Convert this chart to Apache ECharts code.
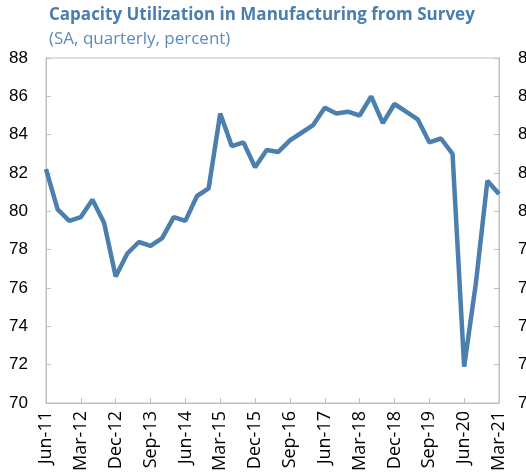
<!DOCTYPE html>
<html>
<head>
<meta charset="utf-8">
<script src="https://cdn.jsdelivr.net/npm/echarts@6/dist/echarts.min.js"></script>
<style>html,body{margin:0;padding:0;background:#fff}#c{width:526px;height:474px}</style>
</head>
<body>
<div id="c"></div>
<script>
var quarters = ["Jun-11","Sep-11","Dec-11","Mar-12","Jun-12","Sep-12","Dec-12","Mar-13","Jun-13","Sep-13",
  "Dec-13","Mar-14","Jun-14","Sep-14","Dec-14","Mar-15","Jun-15","Sep-15","Dec-15","Mar-16",
  "Jun-16","Sep-16","Dec-16","Mar-17","Jun-17","Sep-17","Dec-17","Mar-18","Jun-18","Sep-18",
  "Dec-18","Mar-19","Jun-19","Sep-19","Dec-19","Mar-20","Jun-20","Sep-20","Dec-20","Mar-21"];
var utilization = [82.2,80.1,79.5,79.7,80.6,79.4,76.6,77.8,78.4,78.2,
  78.6,79.7,79.5,80.8,81.2,85.1,83.4,83.6,82.3,83.2,
  83.1,83.7,84.1,84.5,85.4,85.1,85.2,85.0,86.0,84.6,
  85.6,85.2,84.8,83.6,83.8,83.0,71.9,76.2,81.6,80.9];
var titleText = "Capacity Utilization in Manufacturing from Survey";
var subtitleText = "(SA, quarterly, percent)";

var chart = echarts.init(document.getElementById('c'), null, {renderer:'canvas'});
var axisGray = '#bfbfbf';
var yAxisBase = {
  type:'value', min:70, max:88, interval:2,
  axisLine:{show:true, lineStyle:{color:axisGray, width:1}},
  axisTick:{show:true, inside:true, length:5, lineStyle:{color:axisGray}},
  splitLine:{show:false},
  axisLabel:{color:'#000', fontFamily:'Liberation Sans', fontSize:17, margin:18}
};
chart.setOption({
  animation:false,
  title:[
    {text:titleText, left:44, top:2, textStyle:{fontFamily:'Open Sans', fontWeight:'bold', fontSize:17, color:'#4a7db0'}},
    {text:subtitleText, left:44, top:26, textStyle:{fontFamily:'Open Sans', fontWeight:'normal', fontSize:17, color:'#5a8cbf'}}
  ],
  grid:{left:46, right:27, top:58, bottom:71, show:true, borderColor:axisGray, borderWidth:1, outerBoundsMode:'none', containLabel:false},
  xAxis:{
    type:'category', data:quarters, boundaryGap:false,
    axisLine:{show:true, lineStyle:{color:axisGray}},
    axisTick:{show:true, inside:true, length:5, interval:2, lineStyle:{color:axisGray}},
    axisLabel:{interval:2, rotate:90, color:'#000', fontFamily:'Open Sans', fontSize:18, margin:8}
  },
  yAxis:[
    Object.assign({}, yAxisBase, {position:'left'}),
    Object.assign({}, yAxisBase, {position:'right', axisLabel:Object.assign({}, yAxisBase.axisLabel, {margin:19})})
  ],
  series:[{
    type:'line', data:utilization, yAxisIndex:0, symbol:'none',
    lineStyle:{color:'#4a7fae', width:4.5}
  }]
});
</script>
</body>
</html>
